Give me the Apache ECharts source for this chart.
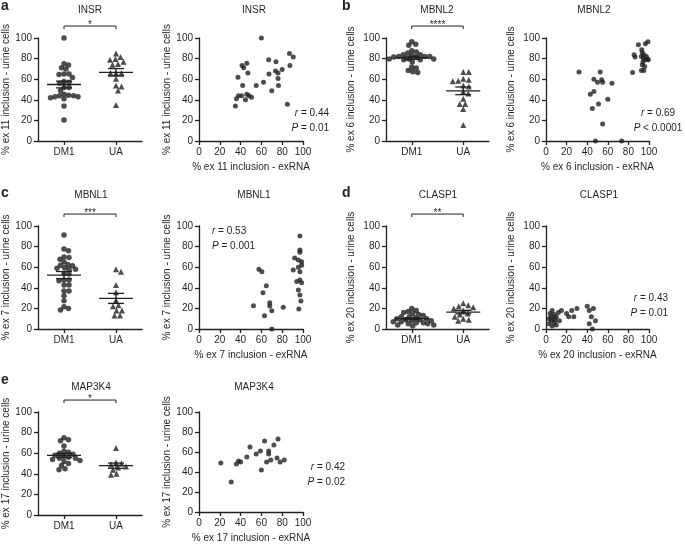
<!DOCTYPE html>
<html><head><meta charset="utf-8">
<script src="https://cdn.jsdelivr.net/npm/echarts@6/dist/echarts.min.js"></script>
<style>html,body{margin:0;padding:0;background:#fff}#c{width:685px;height:544px}</style>
</head><body><div id="c"></div>
<script>
// ---------------- DATA ----------------
const groups = ['DM1', 'UA'];
const yTickStep = 20;
const xTickStep = 20;

// a: INSR
const insrDM1 = [100, 69.8, 73.7, 75, 71, 65, 64.6, 65, 61.7, 57.8, 57, 56, 52, 52, 49, 45.5, 44, 43, 41, 42, 43, 44, 44.5, 34, 20.5];
const insrUA = [85, 79, 79.5, 81.5, 77, 74, 74.7, 66, 66, 66, 60.4, 53, 54, 49, 35];
const insrExRNA = [35, 36, 38, 37.5, 41, 42, 41.4, 43, 44.7, 46, 46, 47, 48, 50.5, 55, 60, 62, 67, 67.3, 70, 73.5, 74, 76, 76, 76.4, 80, 85, 87, 87.4, 90.6];
const insrUrine = [34, 41, 44, 62, 44, 54, 73.4, 71, 40, 45.5, 75.6, 66, 44, 42.5, 54, 100, 57, 79, 65, 48.7, 68, 77, 66, 60.7, 54, 69.5, 35.7, 85, 73.4, 81.5];

// b: MBNL2
const mbnl2DM1 = [96.4, 94, 92.9, 86.4, 87.7, 85.4, 83.8, 83, 81.5, 82, 82, 83.8, 82, 81.5, 79, 79, 79.5, 79.5, 79.5, 76.6, 71.8, 70.8, 68.5, 66.5, 67.2];
const mbnl2UA = [60.4, 58.4, 66.9, 66.9, 59.4, 58, 54, 53, 48, 46, 41, 36, 36, 31, 15.6];
const mbnl2ExRNA = [32, 43, 46.5, 45, 46.5, 50, 52.6, 54, 55, 51, 55, 60, 64, 48, 73.5, 84, 85.5, 86.5, 89.7, 92.9, 93.5, 92.6, 94.5, 96.5, 99, 95, 97.4, 96.8, 98.4, 94.2, 95.8, 92.6, 95, 99.4, 93.5];
const mbnl2Urine = [67, 45.5, 48, 31.5, 60, 57, 67, 59.4, 57, 36, 16.5, 40.6, 56, 0, 0, 66.5, 83.8, 81.5, 93.5, 88.6, 86, 82, 80.5, 94.5, 96.4, 83.8, 82, 79, 79.5, 77, 72.4, 68.5, 68.5, 79, 74];

// c: MBNL1
const mbnl1DM1 = [91.3, 77.7, 76, 70, 69.5, 67.7, 65, 62, 61.5, 62.7, 58, 58, 59, 59.5, 53.4, 54, 47.6, 47.6, 46.9, 42.7, 42.7, 37, 37, 32.3, 21.7, 18.4, 20, 27.5];
const mbnl1UA = [58, 55.6, 42.7, 35.6, 27.8, 23, 22, 18, 18, 13, 13];
const mbnl1ExRNA = [57.6, 60.5, 64.7, 61.5, 97, 97, 97, 92, 95.5, 98.7, 98.7, 90.6, 95.5, 97, 97, 94, 98.7, 95.5, 97, 52.4, 63, 68, 68, 70, 70, 81, 96, 98];
const mbnl1Urine = [58, 55.6, 42, 35.2, 90.3, 76.7, 74.5, 69, 67, 65.3, 62, 57.3, 60, 55.6, 47.6, 46, 45, 37.9, 33, 22.6, 12.9, 25.5, 22.3, 17.8, 0, 21, 19.4, 27.2];

// d: CLASP1
const clasp1DM1 = [20, 18, 17, 16, 15, 14, 13, 12, 12, 11, 10, 10, 9, 9, 8, 8, 7, 7, 6, 6, 5, 5, 4, 4, 3];
const clasp1UA = [25, 23, 22, 21, 20, 18, 15, 14, 12, 10, 9, 8];
const clasp1ExRNA = [3, 3, 4, 5, 5, 6, 6, 7, 8, 8, 9, 10, 10, 12, 13, 15, 20, 22, 25, 27, 30, 40, 42, 42, 44, 45, 46, 48];
const clasp1Urine = [5, 10, 15, 8, 12, 3, 18, 10, 6, 14, 9, 12, 4, 16, 8, 18, 15, 12, 18, 12, 20, 22, 18, 5, 12, 0, 20, 8];

// e: MAP3K4
const map3k4DM1 = [75, 73, 72, 67, 62, 61, 60, 59, 58, 57, 56, 55, 55, 54, 53, 52, 50, 48, 45, 44];
const map3k4UA = [65, 51, 50, 49, 47, 46, 44, 40, 39];
const map3k4ExRNA = [21, 31, 36, 38, 40, 46, 49, 55, 59, 60, 63, 65, 67, 67, 69, 72, 75, 76, 78, 82];
const map3k4Urine = [49, 30, 48, 51, 50, 55, 65, 58, 61, 42, 71, 50, 61, 58, 52, 67, 54, 73, 50, 52];

// labels
const geneNames = ['INSR', 'MBNL2', 'MBNL1', 'CLASP1', 'MAP3K4'];
const exonNames = ['11', '6', '7', '20', '17'];
const sigStars = ['*', '****', '***', '**', '*'];
const rValues = ['0.44', '0.69', '0.53', '0.43', '0.42'];
const pValues = ['= 0.01', '< 0.0001', '= 0.001', '= 0.01', '= 0.02'];
const panelLetters = ['a', 'b', 'c', 'd', 'e'];

// ---------------- LAYOUT ----------------
const FONT = '"Liberation Sans", Arial, Helvetica, sans-serif';
const INK = '#231f20';
const rowTop = [38, 226, 412];
const gridH = 103;
const colLeft = [38, 199, 386, 546];
const colW = [104, 104, 103, 103];
const panelPos = [
  { row: 0, dotCol: 0, scCol: 1, dotTitle: [90, 10], scTitle: [254, 10], letter: [1, 6], bracketY: 111.6 },
  { row: 0, dotCol: 2, scCol: 3, dotTitle: [437, 10], scTitle: [594, 10], letter: [342, 6], bracketY: 111.6 },
  { row: 1, dotCol: 0, scCol: 1, dotTitle: [91, 195], scTitle: [254, 195], letter: [1, 193], bracketY: 111.6 },
  { row: 1, dotCol: 2, scCol: 3, dotTitle: [438, 195], scTitle: [599, 195], letter: [342, 193], bracketY: 111.6 },
  { row: 2, dotCol: 0, scCol: 1, dotTitle: [91, 387], scTitle: [254, 387], letter: [1, 380], bracketY: 111.6 }
];
const statPos = [
  { x: 329, y: 113, align: 'right' },
  { x: 658, y: 113, align: 'center' },
  { x: 212, y: 231, align: 'left' },
  { x: 668, y: 298, align: 'right' },
  { x: 345, y: 467, align: 'right' }
];
const dotYNameGap = [22, 30, 22, 30, 22];
const scYNameGap = [24, 30, 24, 30, 24];

const panelData = [
  { dm: insrDM1, ua: insrUA, ex: insrExRNA, ur: insrUrine },
  { dm: mbnl2DM1, ua: mbnl2UA, ex: mbnl2ExRNA, ur: mbnl2Urine },
  { dm: mbnl1DM1, ua: mbnl1UA, ex: mbnl1ExRNA, ur: mbnl1Urine },
  { dm: clasp1DM1, ua: clasp1UA, ex: clasp1ExRNA, ur: clasp1Urine },
  { dm: map3k4DM1, ua: map3k4UA, ex: map3k4ExRNA, ur: map3k4Urine }
];

// ---------------- HELPERS ----------------
function meanSem(a) {
  const n = a.length;
  const m = a.reduce((s, v) => s + v, 0) / n;
  const sd = Math.sqrt(a.reduce((s, v) => s + (v - m) * (v - m), 0) / (n - 1));
  return [m, sd / Math.sqrt(n)];
}
// beeswarm: spread points horizontally so markers do not overlap too much
function swarm(vals, center, pxPerX, pxPerY, d) {
  const placed = [];
  const order = vals.map((v, i) => i).sort((i, j) => vals[j] - vals[i]);
  const out = new Array(vals.length);
  order.forEach(i => {
    const py = vals[i] * pxPerY;
    let off = 0;
    for (let k = 0; k < 200; k++) {
      const cand = k === 0 ? 0 : (k % 2 === 1 ? 1 : -1) * Math.ceil(k / 2) * 0.5;
      if (!placed.some(p => (p[0] - cand) ** 2 + (p[1] - py) ** 2 < d * d)) { off = cand; break; }
    }
    placed.push([off, py]);
    out[i] = [center + off / pxPerX, vals[i]];
  });
  return out;
}

const lineStyle = { color: INK, width: 1.3 };
const axisLabel = { color: INK, fontSize: 10, fontFamily: FONT, margin: 6 };
const nameTextStyle = { color: INK, fontSize: 10, fontFamily: FONT };

const grids = [], xAxes = [], yAxes = [], series = [], graphics = [];

function addGrid(row, col) {
  grids.push({ left: colLeft[col], top: rowTop[row], width: colW[col], height: gridH });
  return grids.length - 1;
}
function addY(g, name, gap) {
  yAxes.push({
    type: 'value', gridIndex: g, min: 0, max: 100, interval: yTickStep,
    axisLine: { show: true, lineStyle }, axisTick: { show: true, length: 4, lineStyle },
    axisLabel, splitLine: { show: false },
    name, nameLocation: 'middle', nameGap: gap, nameTextStyle
  });
  return yAxes.length - 1;
}

panelData.forEach((pd, p) => {
  const pos = panelPos[p];
  // ---- dot plot ----
  const g = addGrid(pos.row, pos.dotCol);
  xAxes.push({
    type: 'category', gridIndex: g, data: groups, boundaryGap: true,
    axisLine: { show: true, onZero: false, lineStyle },
    axisTick: { show: true, alignWithLabel: true, length: 4, lineStyle },
    axisLabel, splitLine: { show: false }
  });
  xAxes.push({ type: 'value', gridIndex: g, min: 0, max: 2, show: false });
  const xv = xAxes.length - 1;
  const yi = addY(g, '% ex ' + exonNames[p] + ' inclusion - urine cells', dotYNameGap[p]);
  const pxPerX = colW[pos.dotCol] / 2, pxPerY = gridH / 100;
  series.push({
    type: 'scatter', xAxisIndex: xv, yAxisIndex: yi, symbol: 'circle', symbolSize: 5.5,
    itemStyle: { color: INK }, data: swarm(pd.dm, 0.5, pxPerX, pxPerY, 4.6), silent: true, z: 2
  });
  series.push({
    type: 'scatter', xAxisIndex: xv, yAxisIndex: yi, symbol: 'triangle', symbolSize: 6,
    itemStyle: { color: INK }, data: swarm(pd.ua, 1.5, pxPerX, pxPerY, 5.4), silent: true, z: 2
  });
  const ms = [meanSem(pd.dm), meanSem(pd.ua)];
  series.push({
    type: 'custom', xAxisIndex: xv, yAxisIndex: yi, silent: true, z: 5,
    encode: { x: 0, y: 1 },
    data: [[0.5, ms[0][0], ms[0][1]], [1.5, ms[1][0], ms[1][1]]],
    renderItem: (params, api) => {
      const c = api.value(0), m = api.value(1), s = api.value(2);
      const pm = api.coord([c, m]), pu = api.coord([c, m + s]), pl = api.coord([c, m - s]);
      const st = { stroke: INK, lineWidth: 1.3 };
      return {
        type: 'group', children: [
          { type: 'line', shape: { x1: pm[0] - 17, y1: pm[1], x2: pm[0] + 17, y2: pm[1] }, style: st },
          { type: 'line', shape: { x1: pu[0], y1: pu[1], x2: pl[0], y2: pl[1] }, style: st },
          { type: 'line', shape: { x1: pu[0] - 8, y1: pu[1], x2: pu[0] + 8, y2: pu[1] }, style: st },
          { type: 'line', shape: { x1: pl[0] - 8, y1: pl[1], x2: pl[0] + 8, y2: pl[1] }, style: st }
        ]
      };
    }
  });
  series.push({
    type: 'custom', xAxisIndex: xv, yAxisIndex: yi, silent: true, clip: false, z: 5,
    encode: { x: [0, 1], y: 2 },
    data: [[0.5, 1.5, pos.bracketY]],
    renderItem: (params, api) => {
      const a = api.coord([api.value(0), api.value(2)]);
      const b = api.coord([api.value(1), api.value(2)]);
      const st = { stroke: INK, lineWidth: 1 };
      return {
        type: 'group', children: [
          { type: 'polyline', shape: { points: [[a[0], a[1] + 3], [a[0], a[1]], [b[0], b[1]], [b[0], b[1] + 3]] }, style: Object.assign({ fill: null }, st) },
          { type: 'text', x: (a[0] + b[0]) / 2, y: a[1] + 4, style: { text: sigStars[p], fill: INK, font: '10px ' + FONT, align: 'center', verticalAlign: 'bottom' } }
        ]
      };
    }
  });

  // ---- scatter ----
  const g2 = addGrid(pos.row, pos.scCol);
  xAxes.push({
    type: 'value', gridIndex: g2, min: 0, max: 100, interval: xTickStep,
    axisLine: { show: true, onZero: false, lineStyle }, axisTick: { show: true, length: 4, lineStyle },
    axisLabel, splitLine: { show: false },
    name: '% ex ' + exonNames[p] + ' inclusion - exRNA', nameLocation: 'middle', nameGap: 21, nameTextStyle
  });
  const xs = xAxes.length - 1;
  const ys = addY(g2, '% ex ' + exonNames[p] + ' inclusion - urine cells', scYNameGap[p]);
  series.push({
    type: 'scatter', xAxisIndex: xs, yAxisIndex: ys, symbol: 'circle', symbolSize: 5,
    itemStyle: { color: INK }, silent: true,
    data: pd.ex.map((x, i) => [x, pd.ur[i]])
  });

  // ---- texts ----
  const tstyle = (t, x, y, align, font) => ({
    type: 'text', x, y, silent: true,
    style: { text: t, fill: INK, font: font || ('10px ' + FONT), align: align || 'center', verticalAlign: 'middle' }
  });
  graphics.push(tstyle(geneNames[p], pos.dotTitle[0], pos.dotTitle[1]));
  graphics.push(tstyle(geneNames[p], pos.scTitle[0], pos.scTitle[1]));
  graphics.push(tstyle(panelLetters[p], pos.letter[0], pos.letter[1], 'left', 'bold 14px ' + FONT));
  const sp = statPos[p];
  const rich = { i: { fontStyle: 'italic', fontSize: 10, fontFamily: FONT, fill: INK }, n: { fontSize: 10, fontFamily: FONT, fill: INK } };
  graphics.push({ type: 'text', x: sp.x, y: sp.y, silent: true,
    style: { text: '{i|r}{n| = ' + rValues[p] + '}', rich, align: sp.align, verticalAlign: 'middle', fill: INK, font: '10px ' + FONT } });
  graphics.push({ type: 'text', x: sp.x, y: sp.y + 15, silent: true,
    style: { text: '{i|P}{n| ' + pValues[p] + '}', rich, align: sp.align, verticalAlign: 'middle', fill: INK, font: '10px ' + FONT } });
});

const chart = echarts.init(document.getElementById('c'), null, { renderer: 'canvas' });
chart.setOption({
  animation: false,
  backgroundColor: '#fff',
  textStyle: { fontFamily: FONT },
  grid: grids, xAxis: xAxes, yAxis: yAxes, series, graphic: graphics
});
</script>
</body></html>
